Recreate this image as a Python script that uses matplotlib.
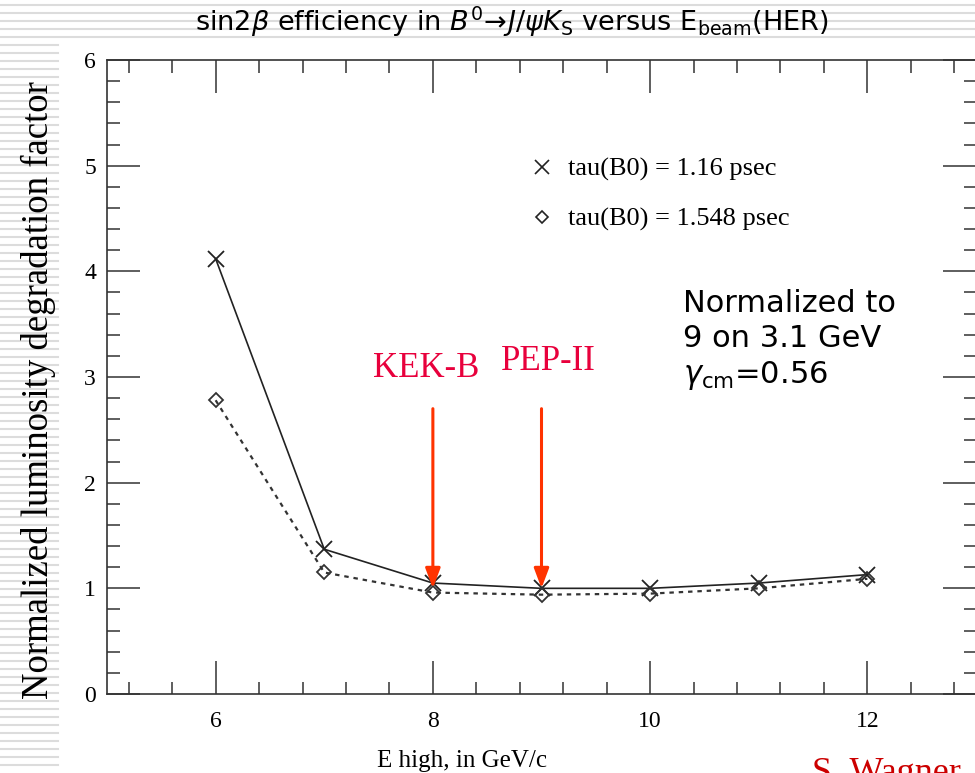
import numpy as np
import matplotlib.pyplot as plt
from matplotlib.lines import Line2D
from matplotlib.ticker import MultipleLocator

# data
e_high = [6, 7, 8, 9, 10, 11, 12]
deg_116 = [4.12, 1.37, 1.05, 1.0, 1.0, 1.05, 1.13]
deg_1548 = [2.78, 1.15, 0.96, 0.94, 0.95, 1.0, 1.09]
labels = ['tau(B0) = 1.16 psec', 'tau(B0) = 1.548 psec']

machines = ['KEK-B', 'PEP-II']
machine_e = [8, 9]
arrow_top = 2.7
arrow_tip = 1.0
machine_label_x = [7.94, 9.06]
machine_label_y = [3.08, 3.15]

serif = ['Liberation Serif', 'DejaVu Serif']
W, H = 975, 773

fig = plt.figure(figsize=(9.75, 7.73), dpi=100)

# striped slide background (top band and left band)
bg = fig.add_axes([0, 0, 1, 1], zorder=-5)
bg.set_xlim(0, W)
bg.set_ylim(H, 0)
bg.axis('off')
for y in np.arange(5, 41, 8):
    bg.plot([0, W], [y, y], color='#dcdcdc', lw=1.5)
for y in np.arange(45, H, 8):
    bg.plot([0, 58], [y, y], color='#dcdcdc', lw=1.5)

ax = fig.add_axes([107 / W, 1 - 694 / H, (976 - 107) / W, (694 - 60) / H])
ax.plot(e_high, deg_116, color='#222222', lw=1.2, marker='x', ms=11, mew=1.3)
ax.plot(e_high, deg_1548, color='#333333', lw=1.6, ls=(0, (2, 2.2)),
        marker='D', ms=7.5, mfc='none', mew=1.3)

for x in machine_e:
    ax.annotate('', xy=(x, arrow_tip), xytext=(x, arrow_top),
                arrowprops=dict(arrowstyle='-|>,head_length=1.2,head_width=0.45',
                                color='#ff3300', lw=2.2, shrinkA=0, shrinkB=0))
for name, lx, ly in zip(machines, machine_label_x, machine_label_y):
    ax.text(lx, ly, name, color='#e8003c', fontsize=25, family=serif,
            ha='center', va='center')

handles = [Line2D([], [], color='#222222', marker='x', ls='none', ms=10, mew=1.2),
           Line2D([], [], color='#222222', marker='D', ls='none', ms=6.5,
                  mfc='none', mew=1.2)]
leg = ax.legend(handles, labels, loc='upper left', bbox_to_anchor=(0.458, 0.884),
                frameon=False, prop={'family': serif, 'size': 19},
                labelspacing=1.0, handlelength=1.0, handletextpad=0.5)

ax.text(0.663, 0.639, 'Normalized to\n9 on 3.1 GeV\n$\\gamma_{\\rm cm}$=0.56',
        transform=ax.transAxes, fontsize=22, family='DejaVu Sans',
        va='top', ha='left', linespacing=1.25)

ax.set_xlim(5, 13)
ax.set_ylim(0, 6)
ax.xaxis.set_major_locator(MultipleLocator(2))
ax.xaxis.set_minor_locator(MultipleLocator(0.4))
ax.yaxis.set_major_locator(MultipleLocator(1))
ax.yaxis.set_minor_locator(MultipleLocator(0.2))
ax.tick_params(which='both', direction='in', top=True, right=True,
               color='#333333', width=1.1)
ax.tick_params(which='major', length=24, labelsize=17)
ax.tick_params(axis='x', which='major', pad=12)
ax.tick_params(axis='y', which='major', pad=8)
ax.tick_params(which='minor', length=9)
for lab in ax.get_xticklabels() + ax.get_yticklabels():
    lab.set_family(serif)
for s in ax.spines.values():
    s.set_color('#333333')
    s.set_linewidth(1.2)

fig.text(462 / W, 1 - 761 / H, 'E high, in GeV/c', family=serif, fontsize=18,
         ha='center', va='center')
fig.text(38 / W, 1 - 390 / H, 'Normalized luminosity degradation factor',
         family=serif, fontsize=26.5, rotation=90, ha='center', va='center')
fig.text(512 / W, 1 - 22 / H,
         'sin2$\\beta$ efficiency in $B^0\\!\\rightarrow\\! J/\\psi K_{\\rm S}$ versus E$_{\\rm beam}$(HER)',
         fontsize=19.5, family='DejaVu Sans', ha='center', va='center')
fig.text(812 / W, 1 - 757 / H, 'S. Wagner', family=serif, fontsize=26,
         color='#cc0000', ha='left', va='top')

fig.savefig('out.png', dpi=100)
